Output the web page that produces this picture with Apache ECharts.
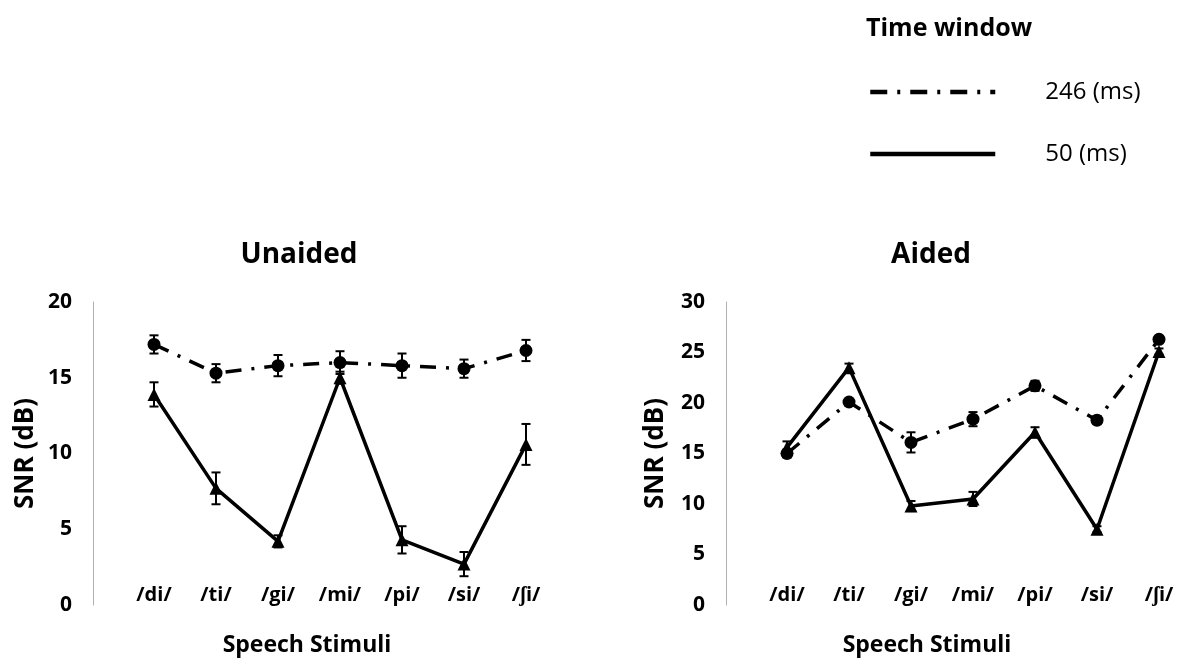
<!DOCTYPE html>
<html>
<head>
<meta charset="utf-8">
<script src="https://cdn.jsdelivr.net/npm/echarts@6/dist/echarts.min.js"></script>
<style>
  html, body { margin: 0; padding: 0; background: #fff; }
  #chart { width: 1191px; height: 659px; }
</style>
</head>
<body>
<div id="chart"></div>
<script>
// categories
const stimuli = ["/di/", "/ti/", "/gi/", "/mi/", "/pi/", "/si/", "/ʃi/"];

// Unaided
const unaided246 = [17.2, 15.3, 15.8, 16.0, 15.8, 15.6, 16.8];
const unaided246Err = [0.6, 0.6, 0.7, 0.75, 0.8, 0.6, 0.7];
const unaided50 = [13.9, 7.7, 4.2, 15.0, 4.3, 2.7, 10.6];
const unaided50Err = [0.8, 1.05, 0.4, 0.4, 0.9, 0.8, 1.35];

// Aided
const aided246 = [15.0, 20.1, 16.1, 18.4, 21.7, 18.3, 26.3];
const aided246Err = [0.4, 0.3, 1.0, 0.7, 0.5, 0.4, 0.3];
const aided50 = [15.6, 23.5, 9.8, 10.5, 17.1, 7.5, 25.1];
const aided50Err = [0.6, 0.4, 0.5, 0.7, 0.5, 0.3, 0.3];

const FONT = "Open Sans";
const dashDot = [16, 10, 3, 10];

const chart = echarts.init(document.getElementById("chart"));

// error bar data: [categoryIndex, low, high]
const errData = (vals, errs) => vals.map((v, i) => [i, v - errs[i], v + errs[i]]);

const renderErr = (params, api) => {
  const lo = api.coord([api.value(0), api.value(1)]);
  const hi = api.coord([api.value(0), api.value(2)]);
  const cap = 4.5;
  const style = { stroke: "#000", lineWidth: 2 };
  return {
    type: "group",
    children: [
      { type: "line", shape: { x1: lo[0], y1: lo[1], x2: hi[0], y2: hi[1] }, style },
      { type: "line", shape: { x1: lo[0] - cap, y1: lo[1], x2: lo[0] + cap, y2: lo[1] }, style },
      { type: "line", shape: { x1: hi[0] - cap, y1: hi[1], x2: hi[0] + cap, y2: hi[1] }, style },
    ],
  };
};

const makeX = (gridIndex, padRight) => ({
  type: "category",
  gridIndex,
  data: stimuli,
  boundaryGap: true,
  axisLine: { show: false },
  axisTick: { show: false },
  axisLabel: { color: "#000", fontFamily: FONT, fontWeight: "bold", fontSize: 20, margin: -20, interval: 0 },
  name: "Speech Stimuli",
  nameLocation: "middle",
  nameGap: 29,
  nameTextStyle: { color: "#000", fontFamily: FONT, fontWeight: "bold", fontSize: 23, verticalAlign: "top", padding: [0, padRight, 0, 0] },
});

const makeY = (gridIndex, max, nameGap) => ({
  type: "value",
  gridIndex,
  min: 0,
  max,
  interval: 5,
  offset: 30,
  axisLine: { show: true, lineStyle: { color: "#b0b0b0", width: 1 } },
  axisTick: { show: false },
  splitLine: { show: false },
  axisLabel: { color: "#000", fontFamily: FONT, fontWeight: "bold", fontSize: 21, margin: 21 },
  name: "SNR (dB)",
  nameLocation: "middle",
  nameRotate: 90,
  nameGap,
  nameTextStyle: { color: "#000", fontFamily: FONT, fontWeight: "bold", fontSize: 26 },
});

const lineSeries = (name, idx, data, dashed) => ({
  name,
  type: "line",
  xAxisIndex: idx,
  yAxisIndex: idx,
  data,
  symbol: dashed ? "circle" : "triangle",
  symbolSize: 13,
  itemStyle: { color: "#000" },
  lineStyle: { color: "#000", width: 3.5, type: dashed ? dashDot : "solid" },
  z: 3,
});

const errSeries = (idx, vals, errs) => ({
  type: "custom",
  xAxisIndex: idx,
  yAxisIndex: idx,
  data: errData(vals, errs),
  renderItem: renderErr,
  encode: { x: 0, y: [1, 2] },
  silent: true,
  z: 4,
});

const option = {
  backgroundColor: "#fff",
  animation: false,
  title: [
    { text: "Time window", left: 861, top: 11, textStyle: { fontFamily: FONT, fontWeight: "bold", fontSize: 25, color: "#000" } },
    { text: "Unaided", left: 294, top: 236, textAlign: "center", textStyle: { fontFamily: FONT, fontWeight: "bold", fontSize: 28, color: "#000" } },
    { text: "Aided", left: 926, top: 236, textAlign: "center", textStyle: { fontFamily: FONT, fontWeight: "bold", fontSize: 28, color: "#000" } },
  ],
  legend: {
    orient: "vertical",
    left: 868,
    top: 80,
    padding: 0,
    itemWidth: 125,
    itemHeight: 16,
    itemGap: 38,
    itemStyle: { opacity: 0 },
    lineStyle: { width: 4.5 },
    data: [
      { name: "246 (ms)", lineStyle: { width: 4.5, type: [17, 10, 3, 10] } },
      { name: "50 (ms)", lineStyle: { width: 4.5, type: "solid" } },
    ],
    textStyle: { fontFamily: FONT, fontSize: 24, color: "#000", padding: [0, 0, 0, 45] },
  },
  grid: [
    { left: 123, width: 434, top: 302, bottom: 54 },
    { left: 756, width: 434, top: 302, bottom: 54 },
  ],
  xAxis: [makeX(0, 66), makeX(1, 92)],
  yAxis: [makeY(0, 20, 54), makeY(1, 30, 57)],
  series: [
    lineSeries("246 (ms)", 0, unaided246, true),
    lineSeries("50 (ms)", 0, unaided50, false),
    errSeries(0, unaided246, unaided246Err),
    errSeries(0, unaided50, unaided50Err),
    lineSeries("246 (ms)", 1, aided246, true),
    lineSeries("50 (ms)", 1, aided50, false),
    errSeries(1, aided246, aided246Err),
    errSeries(1, aided50, aided50Err),
  ],
};

chart.setOption(option);
</script>
</body>
</html>
